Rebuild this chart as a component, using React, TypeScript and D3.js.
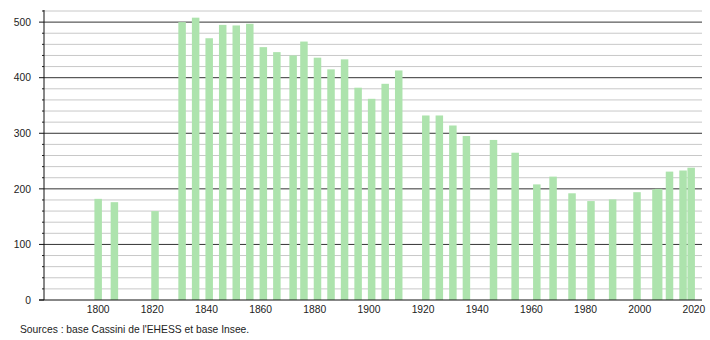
import React from "react";
import * as d3 from "d3";

const years = [1800, 1806, 1821, 1831, 1836, 1841, 1846, 1851, 1856, 1861, 1866, 1872, 1876, 1881, 1886, 1891, 1896, 1901, 1906, 1911, 1921, 1926, 1931, 1936, 1946, 1954, 1962, 1968, 1975, 1982, 1990, 1999, 2006, 2007, 2011, 2016, 2019];
const population = [182, 176, 160, 500, 508, 471, 495, 494, 497, 455, 446, 440, 465, 436, 415, 433, 382, 362, 389, 413, 332, 332, 314, 295, 288, 265, 208, 222, 192, 178, 181, 194, 199, 200, 231, 233, 238];
const xTickLabels = [1800, 1820, 1840, 1860, 1880, 1900, 1920, 1940, 1960, 1980, 2000, 2020];
const yMajorTicks = [0, 100, 200, 300, 400, 500];
const sourceText = "Sources : base Cassini de l'EHESS et base Insee.";

export default function App() {
  const W = 710, H = 340;
  const left = 44, right = 702, top = 11, bottom = 300;
  const x = d3.scaleLinear().domain([1780, 2023]).range([left, right]);
  const y = d3.scaleLinear().domain([0, 520]).range([bottom, top]);
  const minor = d3.range(20, 521, 20).filter((v) => v % 100 !== 0);
  const barW = 7.5;
  const font = "'Liberation Sans', Arial, sans-serif";
  const fs = 10.3;
  return (
    <svg width={W} height={H} style={{ position: "absolute", left: 0, top: 0, background: "#fff" }}>
      <rect x={0} y={0} width={W} height={H} fill="#fff" />
      {minor.map((v) => (
        <g key={"m" + v}>
          <line x1={left} x2={right} y1={y(v)} y2={y(v)} stroke="#c8c8c8" strokeWidth={1} />
          <line x1={left - 2} x2={left} y1={y(v)} y2={y(v)} stroke="#222" strokeWidth={1} />
        </g>
      ))}
      {yMajorTicks.filter((v) => v > 0).map((v) => (
        <line key={"M" + v} x1={left} x2={right} y1={y(v)} y2={y(v)} stroke="#333" strokeWidth={1} />
      ))}
      {years.map((yr, i) => (
        <rect key={yr} x={x(yr) - barW / 2} y={y(population[i])} width={barW} height={bottom - y(population[i])} fill="#ade3ad" />
      ))}
      <line x1={left} x2={left} y1={top - 1} y2={bottom} stroke="#111" strokeWidth={1} />
      <line x1={39} x2={right} y1={bottom} y2={bottom} stroke="#111" strokeWidth={1} />
      {yMajorTicks.map((v) => (
        <g key={"t" + v}>
          <line x1={left - 5} x2={left} y1={y(v)} y2={y(v)} stroke="#111" strokeWidth={1} />
          <text x={31} y={y(v) + 3.7} textAnchor="end" fontSize={fs} fontFamily={font} fill="#222">{v}</text>
        </g>
      ))}
      {xTickLabels.map((v) => (
        <text key={"x" + v} x={x(v)} y={312.5} textAnchor="middle" fontSize={fs} fontFamily={font} fill="#222">{v}</text>
      ))}
      <text x={20} y={333} fontSize={fs} fontFamily={font} fill="#222">{sourceText}</text>
    </svg>
  );
}
